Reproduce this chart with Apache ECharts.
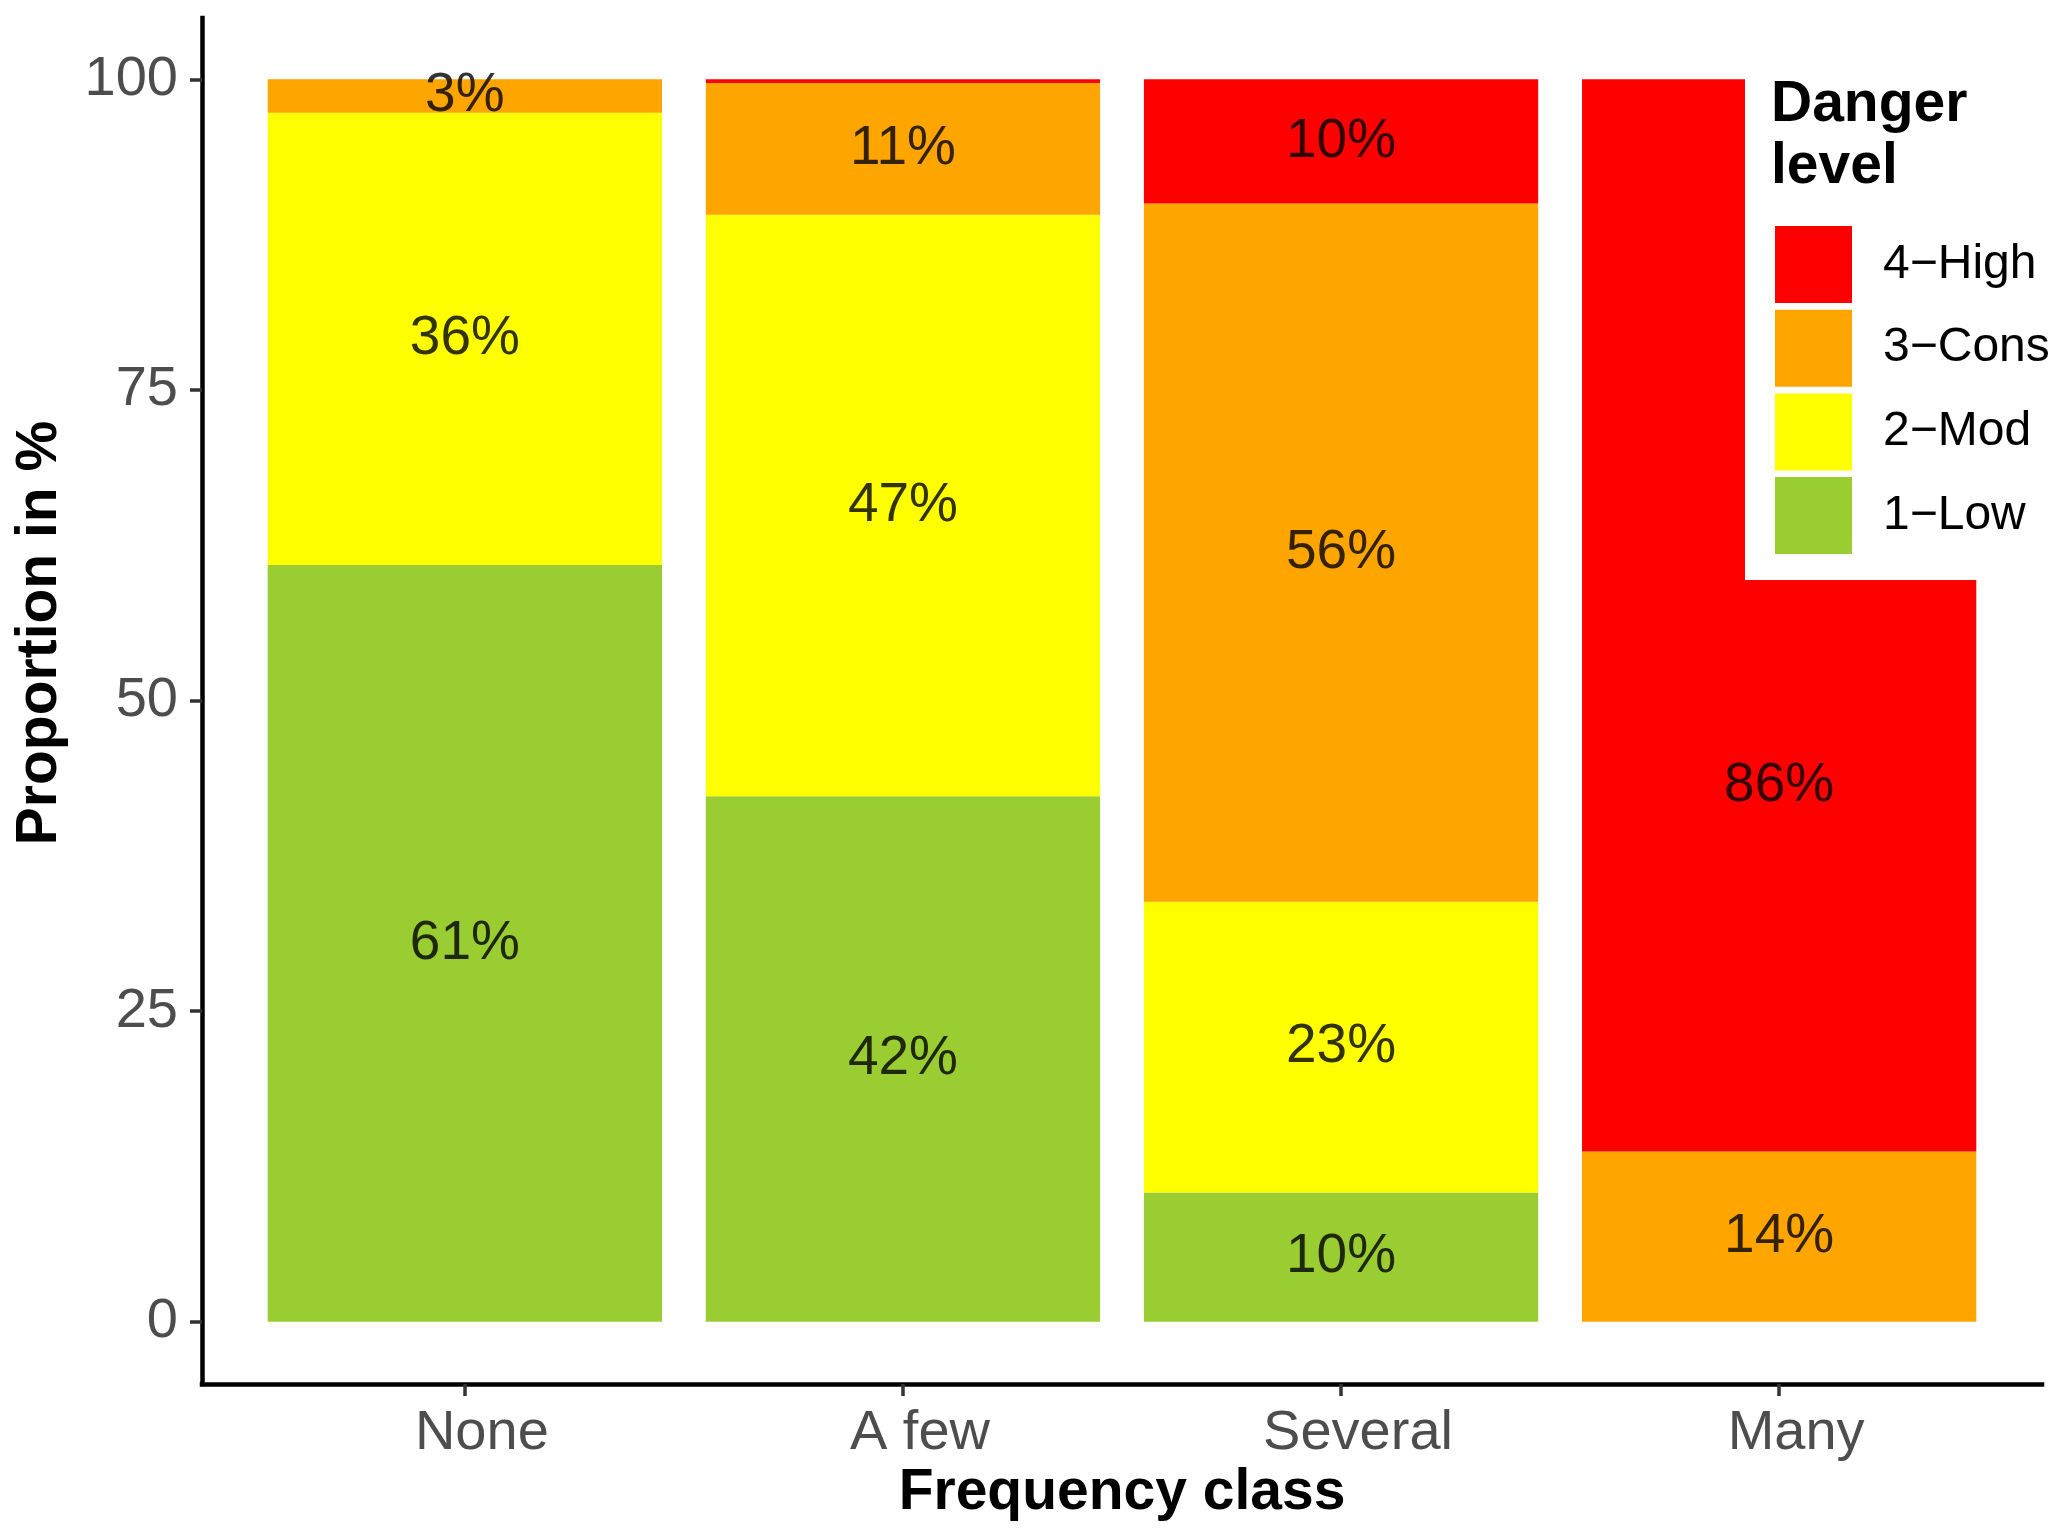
<!DOCTYPE html>
<html>
<head>
<meta charset="utf-8">
<script src="https://cdn.jsdelivr.net/npm/echarts@6/dist/echarts.min.js"></script>
<style>
html,body{margin:0;padding:0;background:#fff;}
#chart{width:2067px;height:1540px;}
</style>
</head>
<body>
<div id="chart"></div>
<script>
// ---- data (percent of each frequency class) ----
const categories = ['None', 'A few', 'Several', 'Many'];
const levels = ['1\u2212Low', '2\u2212Mod', '3\u2212Cons', '4\u2212High'];
const low  = [60.9, 42.3, 10.4, 0];
const mod  = [36.4, 46.8, 23.4, 0];
const cons = [2.7, 10.6, 56.2, 13.7];
const high = [0, 0.3, 10.0, 86.3];
const yTicks = [0, 25, 50, 75, 100];
// in the original figure the labels of this class sit at half of each segment's own value
const halfValueLabelCats = ['Many'];

const colors = ['#9ACD32', '#FFFF00', '#FFA500', '#FF0000'];
const seriesValues = [low, mod, cons, high];
const FONT = 'Liberation Sans, Arial, Helvetica, sans-serif';

// label positions derived from the stacked values
const labelData = [];
categories.forEach((c, i) => {
  let base = 0;
  seriesValues.forEach((arr) => {
    const v = arr[i];
    if (Math.round(v) >= 1) {
      const y = halfValueLabelCats.includes(c) ? v / 2 : base + v / 2;
      labelData.push({ value: [i, y], txt: Math.round(v) + '%' });
    }
    base += v;
  });
});

const chart = echarts.init(document.getElementById('chart'), null, { renderer: 'canvas' });

const axisLineStyle = { color: '#000', width: 4.5, cap: 'square' };

const option = {
  animation: false,
  backgroundColor: '#fff',
  textStyle: { fontFamily: FONT },
  title: {
    text: 'Danger\nlevel',
    left: 1771,
    top: 74,
    padding: 0,
    textStyle: { fontFamily: FONT, fontSize: 57, fontWeight: 'bold', color: '#000', lineHeight: 62 }
  },
  legend: {
    data: ['4\u2212High', '3\u2212Cons', '2\u2212Mod', '1\u2212Low'],
    orient: 'vertical',
    left: 1745,
    top: 60,
    padding: [166, 40, 26, 30],
    itemWidth: 77,
    itemHeight: 77,
    itemGap: 6.7,
    icon: 'rect',
    selectedMode: false,
    backgroundColor: '#fff',
    textStyle: { fontFamily: FONT, fontSize: 48, color: '#000', padding: [0, 0, 0, 26] }
  },
  grid: [
    { left: 202, right: 25, top: 18, bottom: 156, containLabel: false, outerBoundsMode: 'none' },
    { left: 245.8, right: 68.8, top: 79.3, bottom: 218.3, containLabel: false, outerBoundsMode: 'none' }
  ],
  xAxis: [
    {
      type: 'value', gridIndex: 0, min: 0, max: 1,
      axisLine: { show: true, lineStyle: axisLineStyle },
      axisTick: { show: false }, axisLabel: { show: false }, splitLine: { show: false },
      name: 'Frequency class', nameLocation: 'middle', nameGap: 81,
      nameTextStyle: { fontFamily: FONT, fontSize: 57, fontWeight: 'bold', color: '#000' }
    },
    {
      type: 'category', gridIndex: 1, data: categories, offset: 62.3, position: 'bottom',
      axisLine: { show: false, onZero: false },
      axisTick: { show: true, alignWithLabel: true, length: 12, lineStyle: { color: '#333', width: 3.5 } },
      axisLabel: { fontFamily: FONT, fontSize: 56, color: '#4D4D4D', margin: 22, padding: [0, 0, 0, 34] },
      splitLine: { show: false }
    }
  ],
  yAxis: [
    {
      type: 'value', gridIndex: 0, min: 0, max: 1,
      axisLine: { show: true, lineStyle: axisLineStyle },
      axisTick: { show: false }, axisLabel: { show: false }, splitLine: { show: false }
    },
    {
      type: 'value', gridIndex: 1, min: yTicks[0], max: yTicks[yTicks.length - 1], interval: yTicks[1] - yTicks[0],
      offset: 43.8,
      axisLine: { show: false, onZero: false },
      axisTick: { show: true, length: 12, lineStyle: { color: '#333', width: 3.5 } },
      axisLabel: { fontFamily: FONT, fontSize: 56, color: '#4D4D4D', margin: 24 },
      splitLine: { show: false }
    }
  ],
  graphic: [
    {
      type: 'text', x: 40, y: 633, rotation: Math.PI / 2,
      style: { text: 'Proportion in %', font: 'bold 57px ' + FONT, fill: '#000', align: 'center', verticalAlign: 'middle' },
      silent: true
    }
  ],
  series: levels.map((name, k) => ({
    name: name,
    type: 'bar',
    stack: 'total',
    xAxisIndex: 1, yAxisIndex: 1,
    barWidth: '90%',
    itemStyle: { color: colors[k] },
    data: seriesValues[k],
    silent: true
  })).concat([{
    type: 'scatter',
    name: 'labels',
    xAxisIndex: 1, yAxisIndex: 1,
    symbolSize: 0,
    z: 5,
    silent: true,
    data: labelData.map(d => ({ value: d.value, txt: d.txt })),
    label: {
      show: true, position: 'inside',
      fontFamily: FONT, fontSize: 55, color: '#000',
      formatter: (p) => p.data.txt
    }
  }])
};

chart.setOption(option);
</script>
</body>
</html>
